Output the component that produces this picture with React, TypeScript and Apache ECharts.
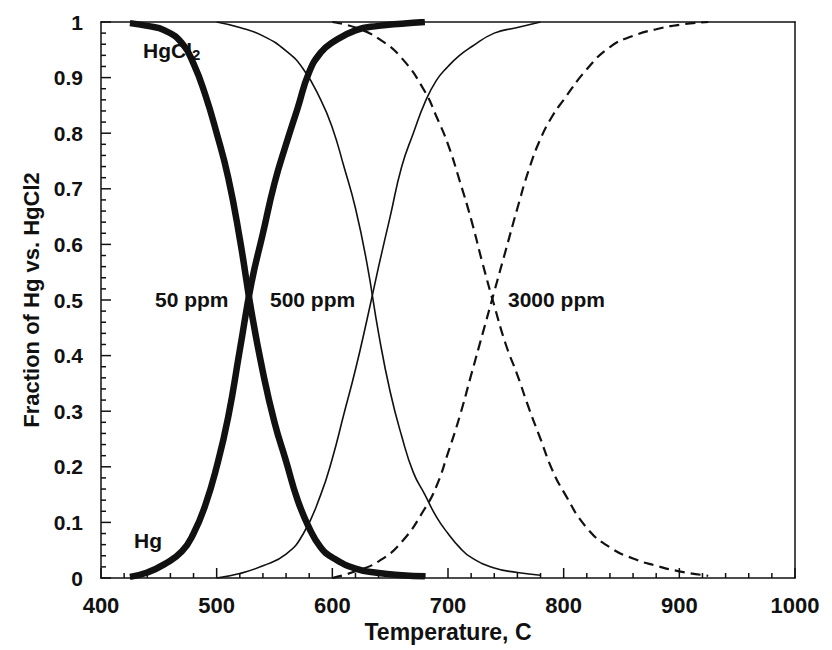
import React, { useEffect, useRef } from "react";
import * as echarts from "echarts";

// Temperature grid (°C) and fractions for each HCl concentration
const temps50 = [425, 440, 455, 470, 480, 490, 500, 510, 520, 530, 540, 550, 560, 570, 580, 590, 600, 620, 640, 660, 680];
const hgcl2At50 = [0.998, 0.993, 0.985, 0.962, 0.925, 0.87, 0.8, 0.72, 0.61, 0.48, 0.37, 0.28, 0.21, 0.14, 0.09, 0.055, 0.037, 0.017, 0.009, 0.005, 0.003];
const hgAt50 = [0.002, 0.01, 0.025, 0.048, 0.08, 0.13, 0.2, 0.29, 0.41, 0.53, 0.62, 0.71, 0.78, 0.845, 0.91, 0.945, 0.963, 0.985, 0.993, 0.997, 1.0];

const temps500 = [500, 520, 540, 560, 575, 590, 600, 610, 620, 630, 640, 650, 660, 670, 680, 690, 700, 710, 720, 740, 760, 780];
const hgcl2At500 = [1.0, 0.99, 0.975, 0.948, 0.915, 0.86, 0.81, 0.74, 0.665, 0.565, 0.44, 0.335, 0.255, 0.19, 0.15, 0.11, 0.08, 0.055, 0.037, 0.018, 0.01, 0.005];
const hgAt500 = [0.0, 0.008, 0.022, 0.043, 0.08, 0.15, 0.215, 0.295, 0.375, 0.465, 0.56, 0.65, 0.74, 0.8, 0.855, 0.895, 0.92, 0.94, 0.955, 0.98, 0.99, 1.0];

const temps3000 = [600, 620, 640, 660, 680, 690, 700, 710, 720, 730, 740, 750, 760, 770, 780, 790, 800, 820, 840, 860, 880, 900, 925];
const hgcl2At3000 = [1.0, 0.99, 0.97, 0.935, 0.875, 0.83, 0.78, 0.715, 0.645, 0.565, 0.49, 0.42, 0.365, 0.305, 0.25, 0.195, 0.155, 0.09, 0.055, 0.035, 0.022, 0.012, 0.004];
const hgAt3000 = [0.0, 0.012, 0.03, 0.065, 0.125, 0.165, 0.225, 0.29, 0.365, 0.44, 0.515, 0.59, 0.665, 0.735, 0.79, 0.83, 0.86, 0.915, 0.955, 0.975, 0.987, 0.995, 1.0];

// Axis ranges
const X_MIN = 400;
const X_MAX = 1000;
const X_STEP = 100;
const X_FINE = 20;
const Y_MIN = 0;
const Y_MAX = 1;
const Y_STEP = 0.1;
const Y_FINE = 0.02;

// Plot layout
const WIDTH = 832;
const HEIGHT = 650;
const GRID = { left: 101, right: 37, top: 22, bottom: 72 };

const FONT = "'Liberation Sans', Arial, Helvetica, sans-serif";
const INK = "#111";

const pairs = (xs: number[], ys: number[]) => xs.map((x, i) => [x, ys[i]]);

type LineKind = "thick" | "thin" | "dashed";
const lineStyleFor = (kind: LineKind) => {
  if (kind === "thick") return { color: INK, width: 6.5, type: "solid" as const };
  if (kind === "thin") return { color: INK, width: 1.6, type: "solid" as const };
  return { color: INK, width: 2.2, type: [10, 6] as number[] };
};

const makeLine = (name: string, xs: number[], ys: number[], kind: LineKind) => ({
  name,
  type: "line",
  xAxisIndex: 0,
  yAxisIndex: 0,
  data: pairs(xs, ys),
  showSymbol: false,
  smooth: 0.5,
  lineStyle: lineStyleFor(kind),
  z: kind === "thick" ? 3 : 2,
});

const steps = (min: number, max: number, step: number) =>
  Array.from({ length: Math.round((max - min) / step) + 1 }, (_, i) => +(min + i * step).toFixed(6));
const isMajor = (v: number, min: number, step: number) => {
  const k = (v - min) / step;
  return Math.abs(k - Math.round(k)) < 1e-6;
};

const frameLine = { show: true, onZero: false, lineStyle: { color: INK, width: 1.5 } };
const boldText = (size: number) => ({ fontFamily: FONT, fontWeight: "bold" as const, fontSize: size, color: INK });

// extra axis that only contributes a frame edge
const edgeAxis = (position: string, min: number, max: number, interval: number) => ({
  type: "value",
  show: true,
  position,
  min,
  max,
  interval,
  axisLine: frameLine,
  axisTick: { show: false },
  axisLabel: { show: false },
  splitLine: { show: false },
});

export default function App() {
  const ref = useRef<HTMLDivElement>(null);

  useEffect(() => {
    if (!ref.current) return;
    const chart = echarts.init(ref.current, undefined, { renderer: "svg" });

    const labelText = { fontFamily: FONT, fontWeight: "bold" as const, fontSize: 21, fill: INK };

    chart.setOption({
      animation: false,
      backgroundColor: "#fff",
      grid: { ...GRID, show: false },
      xAxis: [
        {
          type: "value",
          show: true,
          position: "bottom",
          min: X_MIN,
          max: X_MAX,
          interval: X_STEP,
          name: "Temperature, C",
          nameLocation: "middle",
          nameGap: 42,
          nameTextStyle: boldText(23),
          axisLine: frameLine,
          axisTick: { show: false },
          splitLine: { show: false },
          axisLabel: { show: true, margin: 16, ...boldText(22), formatter: (v: number) => String(v) },
        },
        edgeAxis("top", X_MIN, X_MAX, X_STEP),
      ],
      yAxis: [
        {
          type: "value",
          show: true,
          position: "left",
          min: Y_MIN,
          max: Y_MAX,
          interval: Y_STEP,
          name: "Fraction of Hg vs. HgCl2",
          nameLocation: "middle",
          nameGap: 57,
          nameTextStyle: boldText(22),
          axisLine: frameLine,
          axisTick: { show: false },
          splitLine: { show: false },
          axisLabel: {
            show: true,
            margin: 18,
            ...boldText(21),
            formatter: (v: number) => String(Math.round(v * 10) / 10),
          },
        },
        edgeAxis("right", Y_MIN, Y_MAX, Y_STEP),
      ],
      series: [
        makeLine("HgCl2 50 ppm", temps50, hgcl2At50, "thick"),
        makeLine("Hg 50 ppm", temps50, hgAt50, "thick"),
        makeLine("HgCl2 500 ppm", temps500, hgcl2At500, "thin"),
        makeLine("Hg 500 ppm", temps500, hgAt500, "thin"),
        makeLine("HgCl2 3000 ppm", temps3000, hgcl2At3000, "dashed"),
        makeLine("Hg 3000 ppm", temps3000, hgAt3000, "dashed"),
      ],
    });

    // Map a data point to pixels, through the chart's scales when available
    const toPixel = (x: number, y: number): number[] => {
      let p: any = null;
      try {
        p = chart.convertToPixel({ gridIndex: 0 }, [x, y]);
      } catch (e) {
        p = null;
      }
      if (p && isFinite(p[0]) && isFinite(p[1])) return p as number[];
      const plotW = WIDTH - GRID.left - GRID.right;
      const plotH = HEIGHT - GRID.top - GRID.bottom;
      return [
        GRID.left + ((x - X_MIN) / (X_MAX - X_MIN)) * plotW,
        GRID.top + (1 - (y - Y_MIN) / (Y_MAX - Y_MIN)) * plotH,
      ];
    };

    // Inward tick marks on the bottom and left axes, as thin filled bars
    const ticks: any[] = [];
    steps(X_MIN, X_MAX, X_FINE).forEach((v) => {
      const p = toPixel(v, Y_MIN);
      const len = isMajor(v, X_MIN, X_STEP) ? 10 : 5;
      ticks.push({
        type: "rect",
        silent: true,
        z: 20,
        shape: { x: p[0] - 0.75, y: p[1] - len, width: 1.5, height: len },
        style: { fill: INK },
      });
    });
    steps(Y_MIN, Y_MAX, Y_FINE).forEach((v) => {
      const p = toPixel(X_MIN, v);
      const len = isMajor(v, Y_MIN, Y_STEP) ? 10 : 5;
      ticks.push({
        type: "rect",
        silent: true,
        z: 20,
        shape: { x: p[0], y: p[1] - 0.75, width: len, height: 1.5 },
        style: { fill: INK },
      });
    });

    chart.setOption({
      graphic: [
        {
          type: "text",
          left: 143,
          top: 40,
          z: 10,
          style: {
            text: "{a|HgCl}{b|2}",
            rich: {
              a: { fontFamily: FONT, fontWeight: "bold", fontSize: 21, fill: INK },
              b: { fontFamily: FONT, fontWeight: "bold", fontSize: 15, fill: INK, padding: [7, 0, 0, 0] },
            },
          },
        },
        { type: "text", left: 134, top: 530, z: 10, style: { ...labelText, text: "Hg" } },
        { type: "text", left: 155, top: 289, z: 10, style: { ...labelText, text: "50 ppm" } },
        { type: "text", left: 270, top: 289, z: 10, style: { ...labelText, text: "500 ppm" } },
        { type: "text", left: 508, top: 289, z: 10, style: { ...labelText, text: "3000 ppm" } },
        ...ticks,
      ],
    });

    return () => chart.dispose();
  }, []);

  return (
    <div
      ref={ref}
      style={{ position: "fixed", left: 0, top: 0, width: WIDTH, height: HEIGHT, background: "#fff" }}
    />
  );
}
